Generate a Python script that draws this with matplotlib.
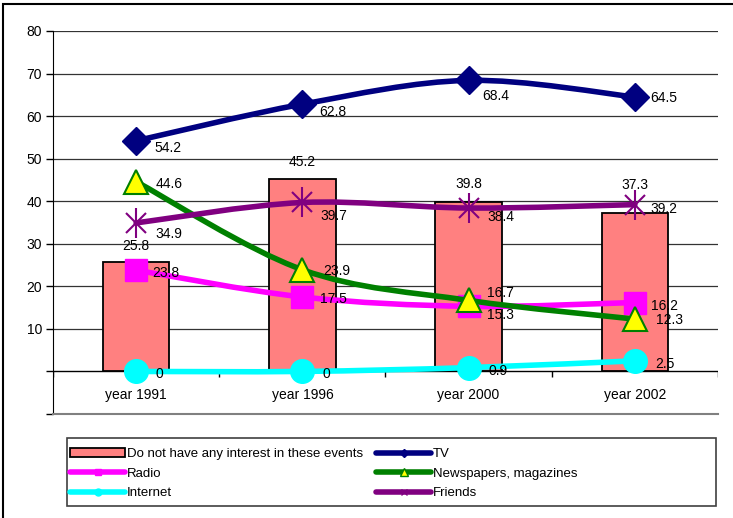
import numpy as np
import matplotlib
matplotlib.use("Agg")
import matplotlib.pyplot as plt
from matplotlib.path import Path
from matplotlib.patches import PathPatch, Rectangle
from matplotlib.lines import Line2D

plt.rcParams["font.family"] = ["Liberation Sans", "DejaVu Sans"]
plt.rcParams["font.size"] = 10

# data
categories = ["year 1991", "year 1996", "year 2000", "year 2002"]
no_interest = [25.8, 45.2, 39.8, 37.3]
tv = [54.2, 62.8, 68.4, 64.5]
radio = [23.8, 17.5, 15.3, 16.2]
newspapers = [44.6, 23.9, 16.7, 12.3]
internet = [0, 0, 0.9, 2.5]
friends = [34.9, 39.7, 38.4, 39.2]
y_ticks = list(range(-10, 81, 10))

PX = 72 / 100  # points per pixel at dpi 100


def smooth_path(xs, ys):
    """Bezier path through the points, like Excel's smoothed line."""
    pts = np.column_stack([xs, ys]).astype(float)
    n = len(pts)
    verts = [pts[0]]
    codes = [Path.MOVETO]
    for i in range(n - 1):
        p0 = pts[max(i - 1, 0)]
        p1 = pts[i]
        p2 = pts[i + 1]
        p3 = pts[min(i + 2, n - 1)]
        verts += [p1 + (p2 - p0) / 6, p2 - (p3 - p1) / 6, p2]
        codes += [Path.CURVE4] * 3
    return Path(verts, codes)


fig = plt.figure(figsize=(7.33, 5.18), dpi=100)
ax = fig.add_axes([53 / 733, 1 - 414 / 518, 665 / 733, 383 / 518])

x = np.arange(len(categories))
ax.set_xlim(-0.5, len(categories) - 0.5)
ax.set_ylim(-10, 80)

# grid + axes
for t in y_ticks:
    if t > 0:
        ax.axhline(t, color="#333333", lw=0.9, zorder=0)
ax.axhline(0, color="black", lw=1.0, zorder=1)
ax.vlines(np.arange(len(categories) + 1) - 0.5, -1.2, 0, color="black", lw=1.0, zorder=1)
ax.set_yticks(y_ticks)
ax.set_yticklabels([str(t) if t > 0 else "" for t in y_ticks])
ax.set_xticks([])
ax.tick_params(axis="y", length=5, width=1, pad=3, labelsize=10, colors="black")
ax.spines["top"].set_visible(False)
ax.spines["right"].set_visible(False)
ax.spines["left"].set_color("black")
ax.spines["bottom"].set_color("#808080")
ax.spines["bottom"].set_linewidth(1.5)

for i, c in enumerate(categories):
    ax.annotate(c, (i, 0), xytext=(0, -24 * PX), textcoords="offset points",
                ha="center", va="center", fontsize=10)

# bars
ax.bar(x, no_interest, width=0.4, color="#FF8080", edgecolor="black", lw=1.3, zorder=2)
bar_label_rise = [16, 17, 18, 28]  # px above bar top
for i, v in enumerate(no_interest):
    ax.annotate(f"{v}", (i, v), xytext=(0, bar_label_rise[i] * PX), textcoords="offset points",
                ha="center", va="center", fontsize=10)

series = [
    (tv, "#000080", dict(marker="D", markersize=14, markerfacecolor="#000080", markeredgecolor="#000080")),
    (radio, "#FF00FF", dict(marker="s", markersize=16, markerfacecolor="#FF00FF", markeredgecolor="#FF00FF")),
    (newspapers, "#008000", dict(marker="^", markersize=17, markerfacecolor="#FFFF00", markeredgecolor="#008000", markeredgewidth=1.5)),
    (internet, "#00FFFF", dict(marker="o", markersize=17, markerfacecolor="#00FFFF", markeredgecolor="#00FFFF")),
    (friends, "#800080", None),
]
# label offsets (px right, px down) from each marker, as placed in the reference
label_offsets = [
    [(18, 7), (17, 8), (14, 16), (15, 1)],
    [(16, 3), (18, 2), (18, 9), (16, 3)],
    [(20, 2), (21, 1), (18, -7), (21, 1)],
    [(19, 3), (20, 3), (20, 3), (20, 3)],
    [(19, 11), (18, 14), (19, 9), (16, 4)],
]

z = 3
for vals, col, mk in series:
    ax.add_patch(PathPatch(smooth_path(x, vals), facecolor="none", edgecolor=col,
                           lw=4, capstyle="round", joinstyle="round", zorder=z))
    if mk is not None:
        ax.plot(x, vals, linestyle="none", zorder=z + 0.5, **mk)
    else:
        ax.plot(x, vals, linestyle="none", marker="x", markersize=15, markeredgecolor=col,
                markeredgewidth=1.5, zorder=z + 0.5)
        ax.plot(x, vals, linestyle="none", marker="|", markersize=21, markeredgecolor=col,
                markeredgewidth=1.5, zorder=z + 0.5)
    z += 1

for (vals, col, mk), offs in zip(series, label_offsets):
    for i, v in enumerate(vals):
        dx, dy = offs[i]
        ax.annotate(f"{v:g}", (i, v), xytext=(dx * PX, -dy * PX),
                    textcoords="offset points", ha="left", va="center",
                    fontsize=10, zorder=10)

# legend
handles = [
    Rectangle((0, 0), 1, 1, facecolor="#FF8080", edgecolor="black", lw=1.3),
    Line2D([], [], color="#FF00FF", lw=4, marker="s", markersize=5, solid_capstyle="round"),
    Line2D([], [], color="#00FFFF", lw=4, marker="o", markersize=5, solid_capstyle="round"),
    Line2D([], [], color="#000080", lw=4, marker="D", markersize=4, solid_capstyle="round"),
    Line2D([], [], color="#008000", lw=4, marker="^", markersize=6, markerfacecolor="#FFFF00",
           markeredgecolor="#008000", solid_capstyle="round"),
    Line2D([], [], color="#800080", lw=4, marker="x", markersize=5, solid_capstyle="round"),
]
labels = ["Do not have any interest in these events", "Radio", "Internet",
          "TV", "Newspapers, magazines", "Friends"]
fig.legend(handles, labels, ncol=2, loc="upper left",
           bbox_to_anchor=(70 / 733, 1 - 448 / 518), frameon=False,
           handlelength=4.2, handletextpad=0.1, columnspacing=1.0,
           labelspacing=0.55, borderpad=0, borderaxespad=0, fontsize=9.5)
fig.add_artist(Rectangle((67 / 733, 1 - 506 / 518), 649 / 733, 68 / 518,
                         transform=fig.transFigure, facecolor="none",
                         edgecolor="#404040", lw=1.2))

# outer chart border
fig.add_artist(Rectangle((3 / 733, -0.1), 1.0, 1.1 - 4 / 518,
                         transform=fig.transFigure, facecolor="none",
                         edgecolor="black", lw=1.5))

fig.savefig("out.png", dpi=100)
